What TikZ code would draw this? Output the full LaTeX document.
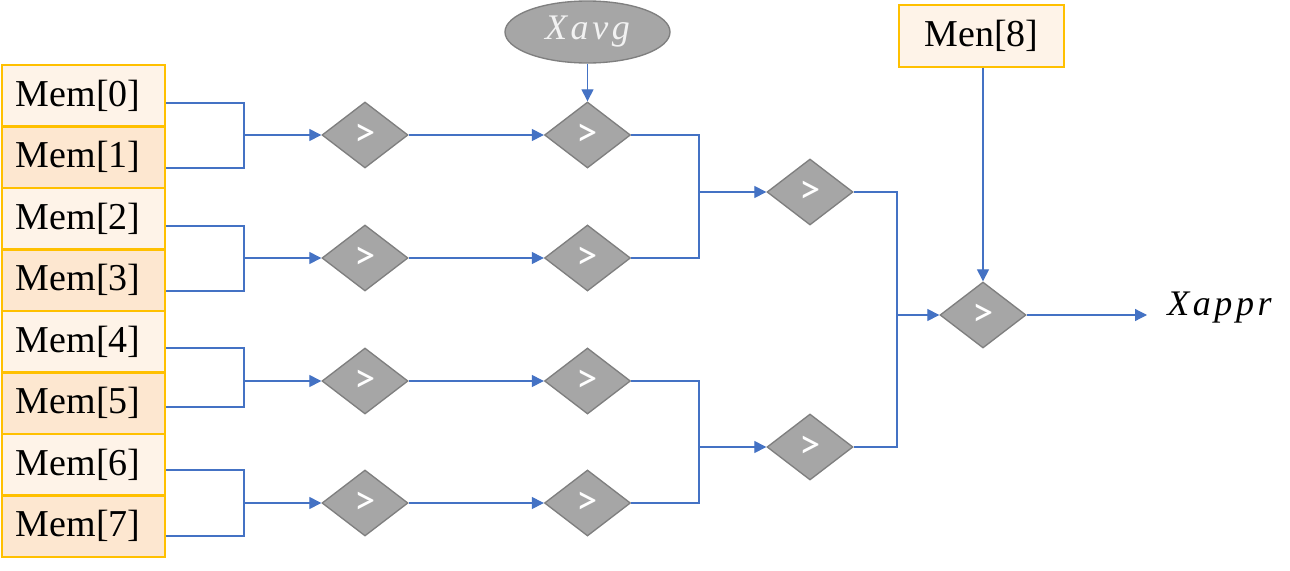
\documentclass[tikz,border=0pt]{standalone}
\usepackage{fontspec}
\setmainfont{Liberation Serif}
\newfontfamily\gtfont{Carlito}
\newfontfamily\varfont[LetterSpace=10]{Liberation Serif}
\usetikzlibrary{shapes.geometric,arrows.meta}
\definecolor{boxA}{HTML}{FEF3E8}
\definecolor{boxB}{HTML}{FDE7D0}
\definecolor{gold}{HTML}{FFC000}
\definecolor{dgray}{HTML}{A6A6A6}
\definecolor{dedge}{HTML}{7F7F7F}
\definecolor{wireblue}{HTML}{4472C4}
\begin{document}
\begin{tikzpicture}[x=0.75pt,y=-0.75pt,
  membox/.style={draw=gold, line width=1.5pt, minimum width=122.25pt, minimum height=46.1pt, inner sep=0pt, font=\fontsize{28.5}{30}\selectfont},
  memA/.style={membox, fill=boxA},
  memB/.style={membox, fill=boxB},
  cmp/.style={diamond, draw=dedge, line width=1pt, fill=dgray, minimum width=64.5pt, minimum height=49.5pt, inner sep=0pt, text=white, font=\gtfont\fontsize{32}{34}\selectfont},
  oval/.style={ellipse, draw=dedge, line width=1pt, fill=dgray, minimum width=123.75pt, minimum height=46.5pt, inner sep=0pt, text=white!95!black, font=\varfont\itshape\fontsize{27}{28}\selectfont},
  wire/.style={draw=wireblue, line width=0.9pt},
  arr/.style={wire, -{Triangle[length=9pt,width=9pt]}}]
\fill[white] (0,0) rectangle (1290,571);
\useasboundingbox (0,0) rectangle (1290,571);

% memory boxes
\node[memA] (m0) at (83.5,95.75) {Mem[0]\hspace*{8pt}};
\node[memB] (m1) at (83.5,157.25) {Mem[1]\hspace*{8pt}};
\node[memA] (m2) at (83.5,218.75) {Mem[2]\hspace*{8pt}};
\node[memB] (m3) at (83.5,280.25) {Mem[3]\hspace*{8pt}};
\node[memA] (m4) at (83.5,341.75) {Mem[4]\hspace*{8pt}};
\node[memB] (m5) at (83.5,403.25) {Mem[5]\hspace*{8pt}};
\node[memA] (m6) at (83.5,464.75) {Mem[6]\hspace*{8pt}};
\node[memB] (m7) at (83.5,526.25) {Mem[7]\hspace*{8pt}};

% comparators
\node[cmp] (a0) at (365,135) {>};
\node[cmp] (a1) at (365,258) {>};
\node[cmp] (a2) at (365,381) {>};
\node[cmp] (a3) at (365,503) {>};
\node[cmp] (b0) at (587.5,135) {>};
\node[cmp] (b1) at (587.5,258) {>};
\node[cmp] (b2) at (587.5,381) {>};
\node[cmp] (b3) at (587.5,503) {>};
\node[cmp] (c0) at (810,192) {>};
\node[cmp] (c1) at (810,447) {>};
\node[cmp] (d0) at (983,315) {>};

\node[oval] (xavg) at (587.5,32) {Xavg};
\node[memA, minimum width=123.75pt] (m8) at (981.5,36) {Men[8]};
\node[anchor=west, inner xsep=15pt, font=\varfont\itshape\fontsize{27}{28}\selectfont] (xap) at (1147,308) {Xappr};

% junctions
\coordinate (ja0) at (244,135);
\coordinate (ja1) at (244,258);
\coordinate (ja2) at (244,381);
\coordinate (ja3) at (244,503);
\coordinate (jb0) at (699,192);
\coordinate (jb1) at (699,447);
\coordinate (jc0) at (897,315);

% stage 1
\draw[wire] ([shift={(0,7.25)}]m0.east) -| (ja0) |- ([shift={(0,10.75)}]m1.east);
\draw[arr] (ja0) -- (a0.west);
\draw[wire] ([shift={(0,7.25)}]m2.east) -| (ja1) |- ([shift={(0,10.75)}]m3.east);
\draw[arr] (ja1) -- (a1.west);
\draw[wire] ([shift={(0,6.25)}]m4.east) -| (ja2) |- ([shift={(0,3.75)}]m5.east);
\draw[arr] (ja2) -- (a2.west);
\draw[wire] ([shift={(0,5.25)}]m6.east) -| (ja3) |- ([shift={(0,9.75)}]m7.east);
\draw[arr] (ja3) -- (a3.west);

% stage 2
\draw[arr] (a0.east) -- (b0.west);
\draw[arr] (a1.east) -- (b1.west);
\draw[arr] (a2.east) -- (b2.west);
\draw[arr] (a3.east) -- (b3.west);
\draw[arr] (xavg.south) -- (b0.north);

% stage 3
\draw[wire] (b0.east) -| (jb0) |- (b1.east);
\draw[arr] (jb0) -- (c0.west);
\draw[wire] (b2.east) -| (jb1) |- (b3.east);
\draw[arr] (jb1) -- (c1.west);

% stage 4
\draw[wire] (c0.east) -| (jc0) |- (c1.east);
\draw[arr] (jc0) -- (d0.west);
\draw[arr] (m8.south -| d0.north) -- (d0.north);
\draw[arr] (d0.east) -- (xap.west |- d0.east);
\end{tikzpicture}
\end{document}
